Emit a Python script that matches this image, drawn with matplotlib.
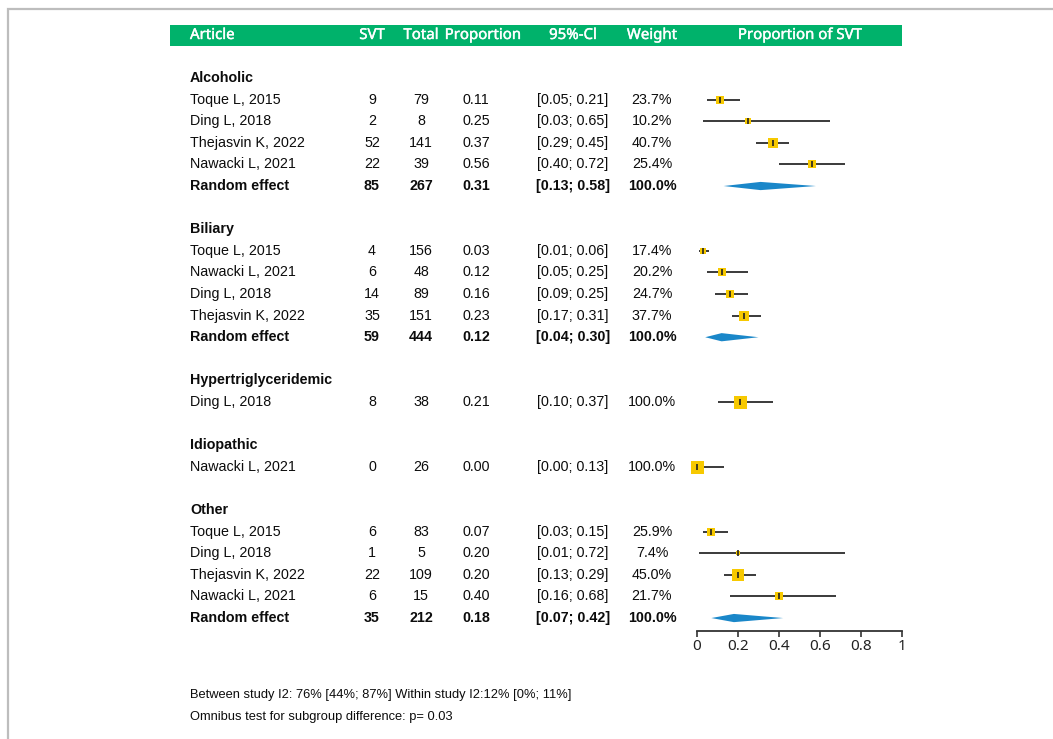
import matplotlib
matplotlib.use("Agg")
import matplotlib.pyplot as plt
import matplotlib.patheffects as pe
from matplotlib.patches import Rectangle, Polygon
from matplotlib.transforms import blended_transform_factory

# study-level data, one entry per study row
groups = ["Alcoholic", "Biliary", "Hypertriglyceridemic", "Idiopathic", "Other"]
study_group = ["Alcoholic"] * 4 + ["Biliary"] * 4 + ["Hypertriglyceridemic", "Idiopathic"] + ["Other"] * 4
study_names = ["Toque L, 2015", "Ding L, 2018", "Thejasvin K, 2022", "Nawacki L, 2021",
               "Toque L, 2015", "Nawacki L, 2021", "Ding L, 2018", "Thejasvin K, 2022",
               "Ding L, 2018",
               "Nawacki L, 2021",
               "Toque L, 2015", "Ding L, 2018", "Thejasvin K, 2022", "Nawacki L, 2021"]
svt = [9, 2, 52, 22, 4, 6, 14, 35, 8, 0, 6, 1, 22, 6]
total = [79, 8, 141, 39, 156, 48, 89, 151, 38, 26, 83, 5, 109, 15]
prop = [0.11, 0.25, 0.37, 0.56, 0.03, 0.12, 0.16, 0.23, 0.21, 0.00, 0.07, 0.20, 0.20, 0.40]
ci_low = [0.05, 0.03, 0.29, 0.40, 0.01, 0.05, 0.09, 0.17, 0.10, 0.00, 0.03, 0.01, 0.13, 0.16]
ci_high = [0.21, 0.65, 0.45, 0.72, 0.06, 0.25, 0.25, 0.31, 0.37, 0.13, 0.15, 0.72, 0.29, 0.68]
weight = [23.7, 10.2, 40.7, 25.4, 17.4, 20.2, 24.7, 37.7, 100.0, 100.0, 25.9, 7.4, 45.0, 21.7]

# random effect summaries per subgroup
pooled_groups = ["Alcoholic", "Biliary", "Other"]
pooled_svt = [85, 59, 35]
pooled_total = [267, 444, 212]
pooled_prop = [0.31, 0.12, 0.18]
pooled_low = [0.13, 0.04, 0.07]
pooled_high = [0.58, 0.30, 0.42]

headers = ["Article", "SVT", "Total", "Proportion", "95%-Cl", "Weight", "Proportion of SVT"]
xticks = [0, 0.2, 0.4, 0.6, 0.8, 1]
footer = ["Between study I2: 76% [44%; 87%] Within study I2:12% [0%; 11%]",
          "Omnibus test for subgroup difference: p= 0.03"]

W, H = 1053, 739
GREEN = "#00b26b"
GOLD = "#f7c900"
BLUE = "#1a87c9"
BODY = "Liberation Sans"
HEAD = "Noto Sans"
INK = "#0c0c0c"

fig = plt.figure(figsize=(W / 100, H / 100), dpi=100)

# frame around the panel
fig.add_artist(Rectangle((8 / W, -0.1), 1.2, 1 - 9 / H + 0.1, transform=fig.transFigure,
                         fill=False, edgecolor="#bdbdbd", linewidth=1.6, zorder=-1))

# header bar
fig.add_artist(Rectangle((170 / W, 1 - 46 / H), 732 / W, 21 / H, transform=fig.transFigure,
                         facecolor=GREEN, edgecolor="none", zorder=-1))

ax = fig.add_axes([697 / W, 1 - 631 / H, 205 / W, 606 / H])
ax.patch.set_visible(False)
ax.set_xlim(0, 1)
ax.set_ylim(25.6, -2.454)
for s in ["left", "right", "top"]:
    ax.spines[s].set_visible(False)
ax.spines["bottom"].set_color("#333333")
ax.spines["bottom"].set_linewidth(1.3)
ax.set_yticks([])
ax.set_xticks(xticks)
ax.set_xticklabels([f"{t:g}" for t in xticks], fontfamily=HEAD, fontsize=11, color="#222222")
ax.tick_params(axis="x", length=4, width=1.2, color="#333333", pad=1.5)

tr = blended_transform_factory(fig.transFigure, ax.transData)

head_x = [190, 372, 421, 483, 573, 652, 800]
for i, (hx, ht) in enumerate(zip(head_x, headers)):
    fig.text(hx / W, 1 - 35.5 / H, ht, ha="left" if i == 0 else "center", va="center",
             color="white", fontsize=10.8, fontfamily=HEAD, zorder=5,
             path_effects=[pe.withStroke(linewidth=0.3, foreground="white")])

col_x = [372 / W, 421 / W, 476 / W, 573 / W, 652 / W]


def row_text(y, name, vals, bold=False):
    fw = "bold" if bold else "normal"
    ax.text(190 / W, y, name, transform=tr, ha="left", va="center", fontsize=10.3,
            fontfamily=BODY, fontweight=fw, color=INK, clip_on=False)
    for cx, v in zip(col_x, vals):
        ax.text(cx, y, v, transform=tr, ha="center", va="center", fontsize=10.3,
                fontfamily=BODY, fontweight=fw, color=INK, clip_on=False)


row = 0
for g in groups:
    ax.text(190 / W, row, g, transform=tr, ha="left", va="center", fontsize=10.3,
            fontfamily=BODY, fontweight="bold", color=INK, clip_on=False)
    row += 1
    for i, sg in enumerate(study_group):
        if sg != g:
            continue
        row_text(row, study_names[i],
                 [str(svt[i]), str(total[i]), f"{prop[i]:.2f}",
                  f"[{ci_low[i]:.2f}; {ci_high[i]:.2f}]", f"{weight[i]:.1f}%"])
        ax.plot([ci_low[i], ci_high[i]], [row, row], color="#2b2b2b", lw=1.3,
                solid_capstyle="butt", zorder=2)
        side = min(13, 3.5 + 0.18 * weight[i])
        ax.plot(prop[i], row, marker="s", markersize=side * 0.72, color=GOLD,
                markeredgewidth=0, zorder=3, clip_on=False)
        ax.plot(prop[i], row, marker="|", markersize=6.5 * 0.72, color="#222222",
                markeredgewidth=1.2, zorder=4, clip_on=False)
        row += 1
    if g in pooled_groups:
        j = pooled_groups.index(g)
        row_text(row, "Random effect",
                 [str(pooled_svt[j]), str(pooled_total[j]), f"{pooled_prop[j]:.2f}",
                  f"[{pooled_low[j]:.2f}; {pooled_high[j]:.2f}]", "100.0%"], bold=True)
        h = 0.19
        ax.add_patch(Polygon([(pooled_low[j], row), (pooled_prop[j], row - h),
                              (pooled_high[j], row), (pooled_prop[j], row + h)],
                             closed=True, facecolor=BLUE, edgecolor="none", zorder=3))
        row += 1
    row += 1

for k, line in enumerate(footer):
    fig.text(190 / W, 1 - (695 + 22 * k) / H, line, ha="left", va="center",
             fontsize=9.3, fontfamily=BODY, color=INK)

fig.savefig("out.png", dpi=100, facecolor="white")
